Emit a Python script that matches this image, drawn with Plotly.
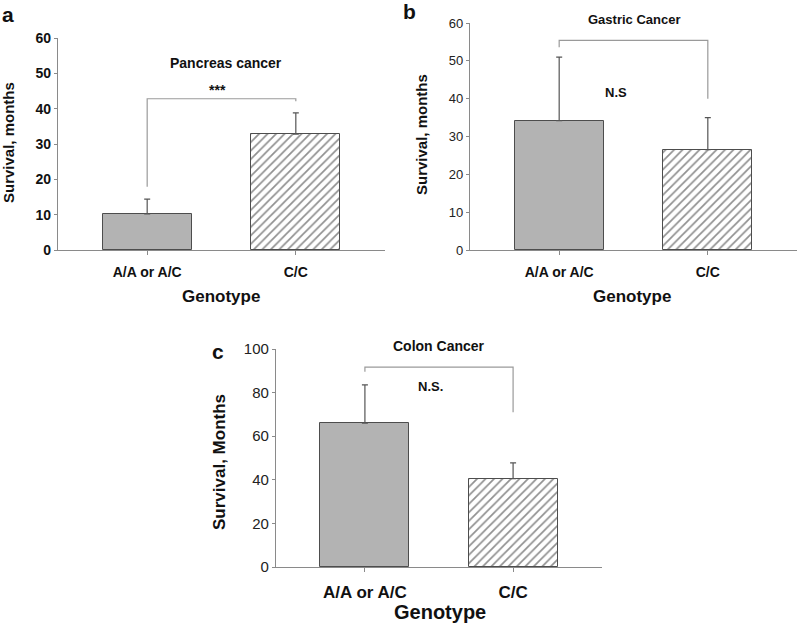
import plotly.graph_objects as go

categories = ["A/A or A/C", "C/C"]

# Panel a: Pancreas cancer
a_mean = [10.2, 32.8]
a_err = [4.2, 6.0]
a_bracket = [17.9, 42.8, 42.8, 42.1]   # left-bottom, top, top, right-bottom
a_ticks = [0, 10, 20, 30, 40, 50, 60]

# Panel b: Gastric cancer
b_mean = [34.2, 26.5]
b_err = [16.8, 8.5]
b_bracket = [53.6, 55.4, 55.4, 40.0]
b_ticks = [0, 10, 20, 30, 40, 50, 60]

# Panel c: Colon cancer
c_mean = [66.0, 40.5]
c_err = [17.5, 7.3]
c_bracket = [89.6, 91.7, 91.7, 71.0]
c_ticks = [0, 20, 40, 60, 80, 100]

W, H = 799, 624
FONT = "Liberation Sans, Arial, sans-serif"
BAR_FILL = "#b3b3b3"
OUTLINE = "#4d4d4d"
AXIS = "#8a8a8a"

fig = go.Figure()

def px_x(v):
    return v / W

def px_y(v):
    return 1 - v / H

panels = [
    dict(mean=a_mean, err=a_err, br=a_bracket, xa="x", ya="y"),
    dict(mean=b_mean, err=b_err, br=b_bracket, xa="x2", ya="y2"),
    dict(mean=c_mean, err=c_err, br=c_bracket, xa="x3", ya="y3"),
]

for p in panels:
    fig.add_trace(go.Bar(
        x=[categories[0]], y=[p["mean"][0]], width=0.6,
        marker=dict(color=BAR_FILL, line=dict(color=OUTLINE, width=1)),
        error_y=dict(type="data", symmetric=False, array=[p["err"][0]], arrayminus=[0],
                     color="#555555", thickness=1.2, width=3),
        xaxis=p["xa"], yaxis=p["ya"], showlegend=False,
    ))
    fig.add_trace(go.Bar(
        x=[categories[1]], y=[p["mean"][1]], width=0.6,
        marker=dict(color="white", line=dict(color=OUTLINE, width=1),
                    pattern=dict(shape="/", fgcolor="#222222", bgcolor="white",
                                 size=6, solidity=0.28)),
        error_y=dict(type="data", symmetric=False, array=[p["err"][1]], arrayminus=[0],
                     color="#555555", thickness=1.2, width=3),
        xaxis=p["xa"], yaxis=p["ya"], showlegend=False,
    ))
    br = p["br"]
    fig.add_trace(go.Scatter(
        x=[categories[0], categories[0], categories[1], categories[1]],
        y=br, mode="lines", line=dict(color="#9a9a9a", width=1.2),
        xaxis=p["xa"], yaxis=p["ya"], showlegend=False, hoverinfo="skip",
    ))

def xax(x0, x1, anchor, font):
    return dict(domain=[px_x(x0), px_x(x1)], anchor=anchor, type="category",
                range=[-0.6, 1.6], showline=True, linecolor=AXIS, linewidth=1.2,
                ticks="outside", ticklen=4, tickcolor=AXIS, showgrid=False,
                zeroline=False, tickfont=font, fixedrange=True, automargin=False,
                ticklabelstandoff=5)

def yax(ytop, ybot, anchor, rng, ticks, font):
    return dict(domain=[px_y(ybot), px_y(ytop)], anchor=anchor, range=rng,
                tickvals=ticks, showline=True, linecolor=AXIS, linewidth=1.2,
                ticks="outside", ticklen=3, tickcolor=AXIS, showgrid=False,
                zeroline=False, tickfont=font, fixedrange=True, automargin=False)

bold14 = dict(family=FONT, size=14, color="#111", weight="bold")
reg13 = dict(family=FONT, size=13, color="#222")
reg15 = dict(family=FONT, size=15, color="#222")
boldx_c = dict(family=FONT, size=17, color="#111", weight="bold")

fig.update_layout(
    width=W, height=H, margin=dict(l=0, r=0, t=0, b=0, autoexpand=False),
    paper_bgcolor="white", plot_bgcolor="rgba(0,0,0,0)",
    barmode="overlay", bargap=0,
    xaxis=xax(58, 385, "y", bold14),
    yaxis=yax(38, 250, "x", [0, 60], a_ticks, bold14),
    xaxis2=xax(470, 797, "y2", bold14),
    yaxis2=yax(23, 250, "x2", [0, 60], b_ticks, reg13),
    xaxis3=xax(276, 602, "y3", boldx_c),
    yaxis3=yax(349, 567, "x3", [0, 100], c_ticks, reg15),
)

ann = []
def text(x, y, s, xref, yref, size, bold=True, **kw):
    ann.append(dict(x=x, y=y, text=s, xref=xref, yref=yref, showarrow=False,
                    xanchor="center", yanchor="middle",
                    font=dict(family=FONT, size=size, color="#111",
                              weight="bold" if bold else "normal"), **kw))

# in-plot labels (data coordinates / axis-domain coordinates)
text(0.53, 52.9, "Pancreas cancer", "x", "y", 14)
text(0.47, 45.2, "***", "x", "y", 14)
text(0.51, 60.9 / 60, "Gastric Cancer", "x2", "y2 domain", 13)
text(0.38, 41.5, "N.S", "x2", "y2", 13)
text(0.5, 101.2 / 100, "Colon Cancer", "x3", "y3 domain", 14)
text(0.44, 82.9, "N.S.", "x3", "y3", 13)

# panel letters
text(px_x(8), px_y(14), "a", "paper", "paper", 21)
text(px_x(409), px_y(11), "b", "paper", "paper", 21)
text(px_x(218), px_y(351), "c", "paper", "paper", 21)

# axis titles
text(px_x(9), px_y(143), "Survival, months", "paper", "paper", 15, textangle=-90)
text(px_x(421), px_y(135), "Survival, months", "paper", "paper", 15, textangle=-90)
text(px_x(219), px_y(462), "Survival, Months", "paper", "paper", 17, textangle=-90)
text(px_x(221), px_y(296), "Genotype", "paper", "paper", 17)
text(px_x(632), px_y(296), "Genotype", "paper", "paper", 17)
text(px_x(440), px_y(612), "Genotype", "paper", "paper", 20)

fig.update_layout(annotations=ann)
fig.write_html(
    "out.html",
    config={"displayModeBar": False},
    post_script="document.body.style.margin='0';document.body.style.overflow='hidden';",
)
